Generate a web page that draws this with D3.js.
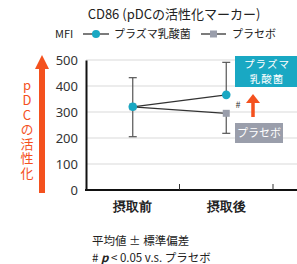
<!DOCTYPE html>
<html><head><meta charset="utf-8">
<script src="https://cdn.jsdelivr.net/npm/d3@7"></script>
<style>
html,body{margin:0;padding:0;background:#fff;}
svg{display:block;font-family:"Noto Sans CJK JP","Noto Sans",sans-serif;}
.vt{writing-mode:vertical-rl;text-orientation:upright;}
</style></head>
<body><svg id="c" width="297" height="264"></svg>
<script>
const categories = ["摂取前", "摂取後"];
const plasmaValues = [320, 366];
const plasmaErrUp = [112, 125];
const placeboValues = [320, 295];
const placeboErrDown = [115, 77];
const yTicks = [0, 100, 200, 300, 400, 500];
const seriesNames = ["プラズマ乳酸菌", "プラセボ"];

const svg = d3.select("#c");
const plasmaColor = "#19a8c3", placeboColor = "#9a9eab", orange = "#f4511e";

const x = d3.scaleBand().domain(categories).range([86, 273]).padding(0);
const y = d3.scaleLinear().domain([0, 500]).range([190, 60]);
const cx = c => x(c) + x.bandwidth() / 2;

// gridlines
svg.append("g").selectAll("line").data(yTicks.filter(d => d > 0)).join("line")
  .attr("x1", 86).attr("x2", 297).attr("y1", d => y(d)).attr("y2", d => y(d))
  .attr("stroke", "#d9d9d9").attr("stroke-width", 1);

// y axis
const yAxis = svg.append("g").attr("transform", "translate(86,0)")
  .call(d3.axisLeft(y).tickValues(yTicks).tickSize(0).tickPadding(8));
yAxis.select(".domain").attr("stroke", "#111").attr("stroke-width", 2);
yAxis.selectAll("text").attr("font-size", 13).attr("fill", "#333")
  .attr("font-family", "'Noto Sans','DejaVu Sans',sans-serif");

// x axis
const xAxis = svg.append("g").attr("transform", "translate(0,190)")
  .call(d3.axisBottom(x).tickSize(0).tickPadding(12));
xAxis.select(".domain").remove();
svg.append("line").attr("x1", 85).attr("x2", 297).attr("y1", 190).attr("y2", 190)
  .attr("stroke", "#111").attr("stroke-width", 2);
xAxis.selectAll("text").attr("font-size", 13).attr("font-weight", "bold").attr("fill", "#222");
// inward ticks at band boundaries
svg.append("g").selectAll("line").data(categories).join("line")
  .attr("x1", d => x(d) + x.bandwidth()).attr("x2", d => x(d) + x.bandwidth())
  .attr("y1", 184).attr("y2", 190).attr("stroke", "#333").attr("stroke-width", 1);

// error bars
function errBar(xc, v1, v2) {
  svg.append("line").attr("x1", xc).attr("x2", xc).attr("y1", y(v1)).attr("y2", y(v2))
    .attr("stroke", "#555").attr("stroke-width", 1.2);
  svg.append("line").attr("x1", xc - 4).attr("x2", xc + 4)
    .attr("y1", y(v2)).attr("y2", y(v2)).attr("stroke", "#555").attr("stroke-width", 1.2);
}
categories.forEach((c, i) => {
  errBar(cx(c), plasmaValues[i], plasmaValues[i] + plasmaErrUp[i]);
  errBar(cx(c), placeboValues[i], placeboValues[i] - placeboErrDown[i]);
});

// lines
const line = d3.line().x((d, i) => cx(categories[i])).y(d => y(d));
svg.append("path").attr("d", line(placeboValues)).attr("fill", "none").attr("stroke", "#333").attr("stroke-width", 1.3);
svg.append("path").attr("d", line(plasmaValues)).attr("fill", "none").attr("stroke", "#333").attr("stroke-width", 1.3);

// markers
svg.append("g").selectAll("rect").data(placeboValues).join("rect")
  .attr("x", (d, i) => cx(categories[i]) - 3.5).attr("y", d => y(d) - 3.5)
  .attr("width", 7).attr("height", 7).attr("fill", placeboColor);
svg.append("g").selectAll("circle").data(plasmaValues).join("circle")
  .attr("cx", (d, i) => cx(categories[i])).attr("cy", d => y(d)).attr("r", 4.3)
  .attr("fill", plasmaColor);

// # mark
svg.append("text").attr("x", 238).attr("y", y(330) + 4).attr("font-size", 9)
  .attr("fill", "#333").attr("text-anchor", "middle").text("#");

// orange small arrow
svg.append("line").attr("x1", 253).attr("x2", 253).attr("y1", 117).attr("y2", 102)
  .attr("stroke", orange).attr("stroke-width", 3.5);
svg.append("path").attr("d", "M246,103 L253,94 L260,103 Z").attr("fill", orange);

// label boxes
svg.append("rect").attr("x", 235).attr("y", 56).attr("width", 62).attr("height", 31).attr("fill", plasmaColor);
svg.append("text").attr("x", 267).attr("y", 67.5).attr("text-anchor", "middle").attr("font-size", 10.5)
  .attr("letter-spacing", 1).attr("fill", "#fff").text("プラズマ");
svg.append("text").attr("x", 267).attr("y", 83).attr("text-anchor", "middle").attr("font-size", 10.5)
  .attr("letter-spacing", 1).attr("fill", "#fff").text("乳酸菌");
svg.append("rect").attr("x", 235).attr("y", 123).attr("width", 48).attr("height", 20).attr("fill", placeboColor);
svg.append("text").attr("x", 259).attr("y", 137).attr("text-anchor", "middle").attr("font-size", 11)
  .attr("fill", "#fff").text(seriesNames[1]);

// big left arrow
svg.append("line").attr("x1", 42).attr("x2", 42).attr("y1", 193).attr("y2", 66)
  .attr("stroke", orange).attr("stroke-width", 6);
svg.append("path").attr("d", "M35,69 L42,55 L49,69 Z").attr("fill", orange);
svg.append("text").attr("class", "vt").attr("x", 27).attr("y", 79)
  .attr("font-size", 13).attr("letter-spacing", 1.6).attr("fill", orange).text("pDCの活性化");

// title
svg.append("text").attr("x", 174).attr("y", 19).attr("text-anchor", "middle").attr("font-size", 13)
  .attr("fill", "#222").text("CD86 (pDCの活性化マーカー)");
// legend
svg.append("text").attr("x", 55).attr("y", 38).attr("font-size", 11).attr("fill", "#222").text("MFI");
svg.append("line").attr("x1", 83).attr("x2", 109).attr("y1", 34).attr("y2", 34).attr("stroke", "#333").attr("stroke-width", 1.3);
svg.append("circle").attr("cx", 96).attr("cy", 34).attr("r", 4).attr("fill", plasmaColor);
svg.append("text").attr("x", 114).attr("y", 38).attr("font-size", 11).attr("fill", "#222").text(seriesNames[0]);
svg.append("line").attr("x1", 201).attr("x2", 226).attr("y1", 34).attr("y2", 34).attr("stroke", "#333").attr("stroke-width", 1.3);
svg.append("rect").attr("x", 210).attr("y", 30.5).attr("width", 7).attr("height", 7).attr("fill", placeboColor);
svg.append("text").attr("x", 232).attr("y", 38).attr("font-size", 11).attr("fill", "#222").text(seriesNames[1]);

// notes
svg.append("text").attr("x", 92).attr("y", 245).attr("font-size", 11.5).attr("fill", "#222").text("平均値 ± 標準偏差");
const n2 = svg.append("text").attr("x", 92).attr("y", 262).attr("font-size", 11.5).attr("fill", "#222");
n2.append("tspan").text("#  ");
n2.append("tspan").attr("font-weight", "bold").attr("font-style", "italic").text("p");
n2.append("tspan").text(" < 0.05 v.s. プラセボ");
</script></body></html>
